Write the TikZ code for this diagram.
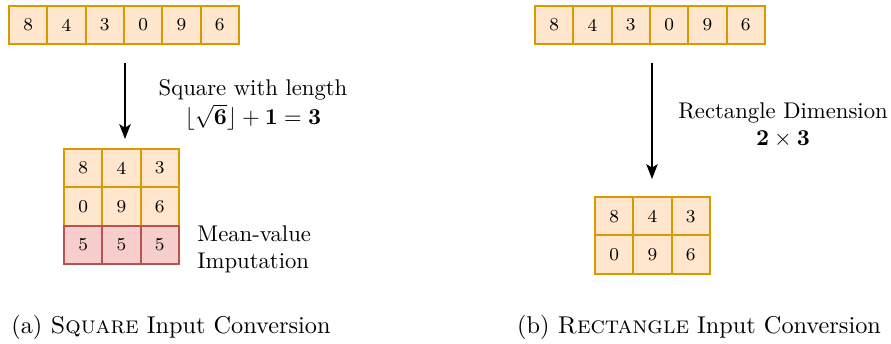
\documentclass[tikz,border=0pt]{standalone}
\usetikzlibrary{arrows.meta}
\definecolor{cellfill}{HTML}{FFE6CC}
\definecolor{celldraw}{HTML}{D79B00}
\definecolor{impfill}{HTML}{F8CECC}
\definecolor{impdraw}{HTML}{B85450}
\begin{document}
\begin{tikzpicture}[
  x=0.4405pt, y=-0.4405pt,
  cell/.style={draw=celldraw, fill=cellfill, line width=0.9pt, minimum size=16.9pt, inner sep=0pt, font=\footnotesize},
  imputed/.style={cell, draw=impdraw, fill=impfill},
  note/.style={align=center, inner sep=0pt},
  caption/.style={font=\fontsize{10.7}{13}\selectfont},
  conv/.style={-{Stealth[length=6.5pt,width=5pt,inset=1.5pt]}, line width=0.9pt}
]
\useasboundingbox (0,0) rectangle (891,343);

% square conversion
\foreach \v [count=\i] in {8,4,3,0,9,6}
  \node[cell] (sqin\i) at ({28.2+38.3*(\i-1)},25) {\v};
\foreach \v [count=\i] in {8,4,3}
  \node[cell] (sqa\i) at ({83.2+38.3*(\i-1)},168) {\v};
\foreach \v [count=\i] in {0,9,6}
  \node[cell] (sqb\i) at ({83.2+38.3*(\i-1)},206.5) {\v};
\foreach \i in {1,2,3}
  \node[imputed] (sqc\i) at ({83.2+38.3*(\i-1)},245) {5};
\coordinate (sqfrom) at (125,63);
\coordinate (sqto) at (125,139);
\draw[conv] (sqfrom) -- (sqto);
\node[note] (sqlen) at (253,105) {Square with length\\[1pt]$\lfloor\sqrt{\mathbf{6}}\rfloor+\mathbf{1}=\mathbf{3}$};
\node[note, align=left, anchor=west] (sqimp) at (197,249) {Mean-value\\Imputation};
\node[caption] (capa) at (171,327) {(a) \textsc{Square} Input Conversion};

% rectangle conversion
\foreach \v [count=\i] in {8,4,3,0,9,6}
  \node[cell] (rein\i) at ({554.2+38.3*(\i-1)},25) {\v};
\foreach \v [count=\i] in {8,4,3}
  \node[cell] (rea\i) at ({614.2+38.3*(\i-1)},216.2) {\v};
\foreach \v [count=\i] in {0,9,6}
  \node[cell] (reb\i) at ({614.2+38.3*(\i-1)},254.5) {\v};
\coordinate (refrom) at (652,63);
\coordinate (reto) at (652,179);
\draw[conv] (refrom) -- (reto);
\node[note] (redim) at (783,125) {Rectangle Dimension\\$\mathbf{2}\times\mathbf{3}$};
\node[caption] (capb) at (699,327) {(b) \textsc{Rectangle} Input Conversion};
\end{tikzpicture}
\end{document}
